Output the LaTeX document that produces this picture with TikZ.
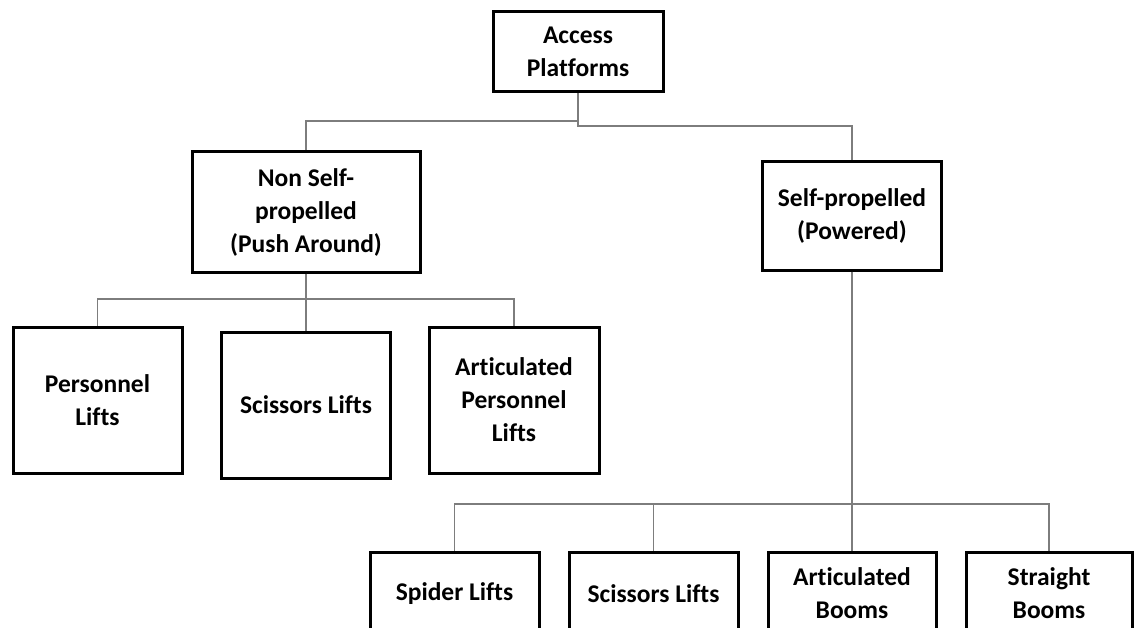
\documentclass[tikz,border=0pt]{standalone}
\usepackage{fontspec}
\setmainfont{Carlito}[Ligatures=NoCommon]
\definecolor{conngray}{RGB}{125,125,125}
\tikzset{
  box/.style={draw=black, line width=3pt, rectangle, align=center, inner sep=0pt,
    font=\fontsize{25.5}{33}\selectfont\bfseries},
  conn/.style={draw=conngray, line width=1.8pt}
}
\begin{document}
\begin{tikzpicture}[x=1pt,y=-1pt]
\useasboundingbox (0,0) rectangle (1139,628);
\clip (0,0) rectangle (1139,628);
\fill[white] (0,0) rectangle (1139,628);
% nodes
\node[box, minimum width=170pt, minimum height=80pt] (access) at (578,52) {Access\\Platforms};
\node[box, minimum width=228pt, minimum height=120pt] (nsp) at (306,212) {Non Self-\\propelled\\(Push Around)};
\node[box, minimum width=179pt, minimum height=108pt] (sp) at (852,216) {Self-propelled\\(Powered)};
\node[box, minimum width=169pt, minimum height=146pt] (pl) at (97.5,400) {Personnel\\Lifts};
\node[box, minimum width=169pt, minimum height=146pt] (sl) at (306,405) {Scissors Lifts};
\node[box, minimum width=170pt, minimum height=146pt] (apl) at (514,400) {Articulated\\Personnel\\Lifts};
\node[box, minimum width=169pt, minimum height=83pt] (spl) at (454.5,593.5) {Spider Lifts};
\node[box, minimum width=169pt, minimum height=83pt] (sl2) at (653.5,593.5) {Scissors Lifts};
\node[box, minimum width=168pt, minimum height=83pt] (ab) at (852,593.5) {Articulated\\Booms};
\node[box, minimum width=166pt, minimum height=83pt] (stb) at (1049,593.5) {Straight\\Booms};
% junctions
\coordinate (j1) at (578,121);
\coordinate (j2) at (578,126);
\coordinate (j3) at (306,299);
\coordinate (j4) at (852,504);
% connectors
\draw[conn] (access.south) -- (j2) -| (sp.north);
\draw[conn] (j1) -| (nsp.north);
\draw[conn] (nsp.south) -- (j3);
\draw[conn] (pl.north) |- (j3) -| (apl.north);
\draw[conn] (j3) -- (sl.north);
\draw[conn] (sp.south) -- (j4);
\draw[conn] (spl.north) |- (j4) -| (stb.north);
\draw[conn] (sl2.north) -- (sl2.north |- j4);
\draw[conn] (ab.north) -- (j4);
\end{tikzpicture}
\end{document}
